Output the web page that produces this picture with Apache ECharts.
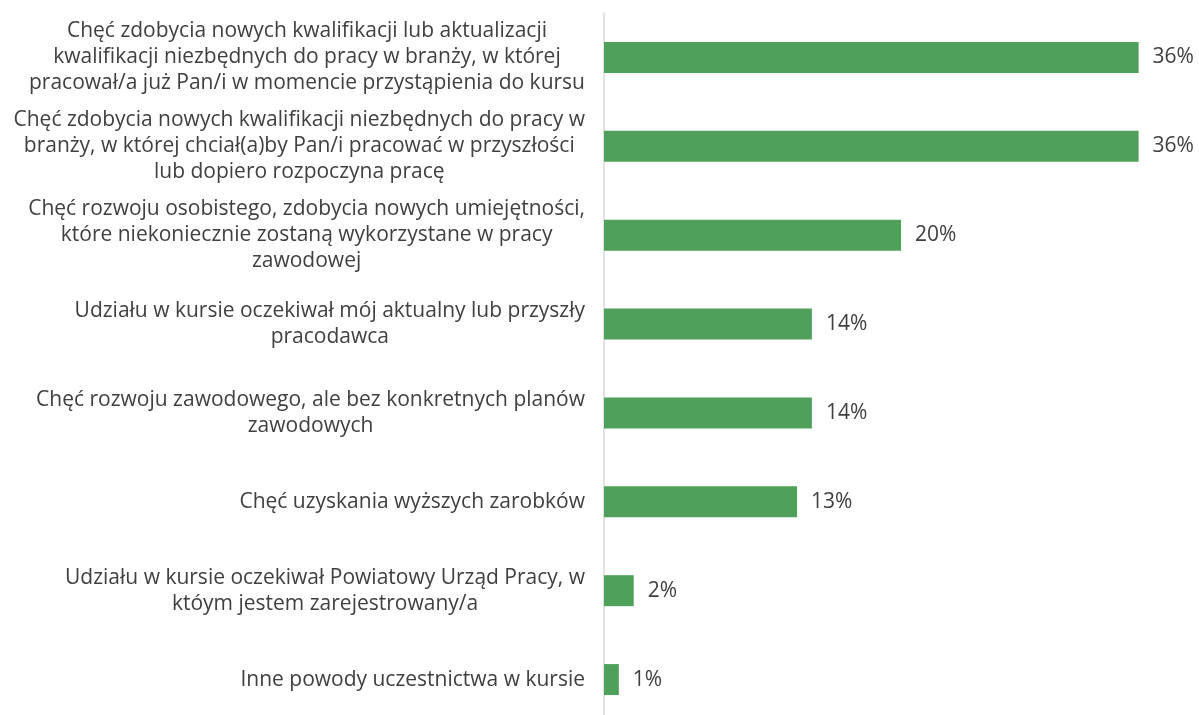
<!DOCTYPE html>
<html>
<head>
<meta charset="utf-8">
<script src="https://cdn.jsdelivr.net/npm/echarts@6/dist/echarts.min.js"></script>
<style>
  html, body { margin: 0; padding: 0; background: #fff; overflow: hidden; }
  #main { width: 1199px; height: 730px; }
</style>
</head>
<body>
<div id="main"></div>
<script>
// powody uczestnictwa w kursie
var categories = [
  'Chęć zdobycia nowych kwalifikacji lub aktualizacji\nkwalifikacji niezbędnych do pracy w branży, w której\npracował/a już Pan/i w momencie przystąpienia do kursu',
  'Chęć zdobycia nowych kwalifikacji niezbędnych do pracy w\nbranży, w której chciał(a)by Pan/i pracować w przyszłości\nlub dopiero rozpoczyna pracę',
  'Chęć rozwoju osobistego, zdobycia nowych umiejętności,\nktóre niekoniecznie zostaną wykorzystane w pracy\nzawodowej',
  'Udziału w kursie oczekiwał mój aktualny lub przyszły\npracodawca',
  'Chęć rozwoju zawodowego, ale bez konkretnych planów\nzawodowych',
  'Chęć uzyskania wyższych zarobków',
  'Udziału w kursie oczekiwał Powiatowy Urząd Pracy, w\nktóym jestem zarejestrowany/a',
  'Inne powody uczestnictwa w kursie'
];
var values = [36, 36, 20, 14, 14, 13, 2, 1];

var chart = echarts.init(document.getElementById('main'));

var option = {
  animation: false,
  textStyle: { fontFamily: '"Open Sans", sans-serif' },
  grid: { left: 604, top: 13, width: 594, height: 711, containLabel: false },
  xAxis: {
    type: 'value',
    min: 0,
    max: 40,
    show: false
  },
  yAxis: {
    type: 'category',
    inverse: true,
    data: categories,
    axisLine: { show: true, lineStyle: { color: '#d9d9d9', width: 1.5 } },
    axisTick: { show: false },
    axisLabel: {
      margin: 19,
      color: '#404040',
      fontSize: 21,
      lineHeight: 26,
      formatter: function (v) { return '{a|' + v + '}'; },
      rich: {
        a: { align: 'center', color: '#404040', fontSize: 21, lineHeight: 26, fontFamily: '"Open Sans", sans-serif' }
      }
    }
  },
  series: [{
    type: 'bar',
    data: values,
    barWidth: 31,
    itemStyle: { color: '#4fa05a' },
    label: {
      show: true,
      position: 'right',
      distance: 14,
      formatter: '{c}%',
      color: '#404040',
      fontSize: 21
    }
  }]
};

chart.setOption(option);
window.addEventListener('resize', function () { chart.resize(); });
</script>
</body>
</html>
